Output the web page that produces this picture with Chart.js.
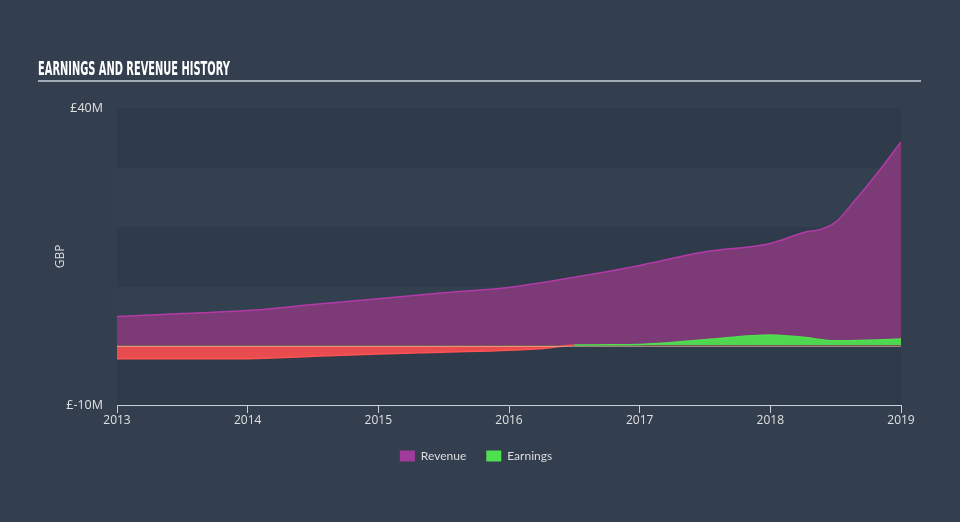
<!DOCTYPE html>
<html><head><meta charset="utf-8">
<script src="https://cdn.jsdelivr.net/npm/chart.js@4"></script>
<style>
html,body{margin:0;padding:0;background:#333f4f;}
#wrap{position:relative;width:960px;height:522px;overflow:hidden;}
#title{position:absolute;left:38px;top:56px;color:#fff;font:bold 20px "DejaVu Sans Condensed","Liberation Sans Narrow",sans-serif;white-space:nowrap;transform-origin:0 0;}
#rule{position:absolute;left:38px;top:80px;width:883px;height:2px;background:#a3abb4;}
canvas{position:absolute;left:0;top:0;}
</style></head><body>
<div id="wrap"><canvas id="c" width="960" height="522"></canvas><div id="title">EARNINGS AND REVENUE HISTORY</div><div id="rule"></div></div>
<script>
const revYears = [2013, 2013.5, 2014, 2014.5, 2015, 2015.5, 2016, 2016.5, 2017, 2017.5, 2018, 2018.25, 2018.4, 2018.5, 2018.65, 2018.8, 2019];
const revenue  = [4.9, 5.4, 5.9, 6.9, 7.9, 8.9, 9.8, 11.5, 13.5, 15.8, 17.2, 19.0, 19.7, 20.8, 24.5, 28.5, 34.3];
const earnYears = [2013, 2013.5, 2014, 2014.5, 2015, 2015.5, 2016, 2016.3, 2016.5, 2017, 2017.5, 2018, 2018.25, 2018.5, 2018.75, 2019];
const earnings  = [-2.2, -2.2, -2.2, -1.8, -1.4, -1.1, -0.8, -0.4, 0.1, 0.2, 1.0, 1.8, 1.4, 0.8, 0.9, 1.1];
const yearTicks = [2013, 2014, 2015, 2016, 2017, 2018, 2019];
const yTickLabels = {"40": "£40M", "-10": "£-10M"};
const seriesNames = ["Revenue", "Earnings"];
const legendColors = ["#a23b9b", "#4fe04f"];

const t = document.getElementById('title');
t.style.transform = 'scaleX(' + (192 / t.offsetWidth) + ')';

const bands = {
  id: 'bands',
  beforeDatasetsDraw(chart) {
    const {ctx, chartArea: a, scales: {y}} = chart;
    ctx.save();
    for (let v = -10; v < 40; v += 10) {
      const idx = (v + 10) / 10;
      ctx.fillStyle = idx % 2 === 0 ? '#2f3b4a' : '#334050';
      const top = y.getPixelForValue(v + 10), bot = y.getPixelForValue(v);
      ctx.fillRect(a.left, top, a.right - a.left, bot - top);
    }
    ctx.restore();
  },
  afterDatasetsDraw(chart) {
    const {ctx, chartArea: a, scales: {y}} = chart;
    const z = Math.round(y.getPixelForValue(0)) + 0.5;
    ctx.save();
    ctx.strokeStyle = 'rgba(240,200,170,0.55)';
    ctx.lineWidth = 1;
    ctx.beginPath(); ctx.moveTo(a.left, z); ctx.lineTo(a.right, z); ctx.stroke();
    ctx.restore();
  }
};

new Chart(document.getElementById('c'), {
  type: 'line',
  data: {
    datasets: [
      {
        label: seriesNames[0],
        data: revYears.map((x, i) => ({x, y: revenue[i]})),
        borderColor: '#b33aa8',
        borderWidth: 1.5,
        backgroundColor: 'rgb(124,58,118)',
        fill: 'origin',
        pointRadius: 0,
        cubicInterpolationMode: 'monotone',
        order: 2
      },
      {
        label: seriesNames[1],
        data: earnYears.map((x, i) => ({x, y: earnings[i]})),
        borderWidth: 1.5,
        borderColor: '#4fe04f',
        segment: { borderColor: c => (c.p0.parsed.y < 0 || c.p1.parsed.y < 0) ? '#ff5252' : '#4fe04f' },
        backgroundColor: '#4fd64f',
        fill: { target: 'origin', above: '#4fd84f', below: '#e84c4f' },
        pointRadius: 0,
        cubicInterpolationMode: 'monotone',
        order: 1
      }
    ]
  },
  options: {
    responsive: false,
    devicePixelRatio: 1,
    animation: false,
    layout: { padding: { top: 108, right: 59, bottom: 50, left: 51 } },
    plugins: {
      tooltip: { enabled: false },
      legend: {
        position: 'bottom',
        labels: {
          color: '#dddddd',
          font: { family: 'Lato', size: 12 },
          boxWidth: 15, boxHeight: 11, padding: 20,
          sort: (a, b) => a.datasetIndex - b.datasetIndex,
          generateLabels: chart => chart.data.datasets.map((ds, i) => ({
            text: ds.label, fillStyle: legendColors[i], strokeStyle: legendColors[i],
            lineWidth: 0, datasetIndex: i, hidden: false, fontColor: '#dddddd'
          }))
        }
      }
    },
    scales: {
      x: {
        type: 'linear', min: 2013, max: 2019,
        afterBuildTicks: s => { s.ticks = yearTicks.map(v => ({value: v})); },
        afterFit: s => { s.height = 25; },
        ticks: { color: '#e0e0e0', font: { family: 'Open Sans', size: 12 }, padding: 0, callback: v => String(v), maxRotation: 0 },
        grid: { drawOnChartArea: false, drawTicks: true, tickLength: 8, color: '#c8d0d8' },
        border: { display: true, color: '#c8d0d8', width: 1 }
      },
      y: {
        min: -10, max: 40,
        afterFit: s => { s.width = 66; },
        ticks: { stepSize: 10, color: '#e0e0e0', font: { family: 'Open Sans', size: 12.5 }, padding: 14,
          callback: v => yTickLabels[String(v)] || '' },
        grid: { display: false, drawTicks: false, tickLength: 0 },
        border: { display: false },
        title: { display: true, text: 'GBP', color: '#dddddd', font: { family: 'Open Sans', size: 12 }, padding: { top: 2, bottom: 0 } }
      }
    }
  },
  plugins: [bands]
});
</script>
</body></html>
